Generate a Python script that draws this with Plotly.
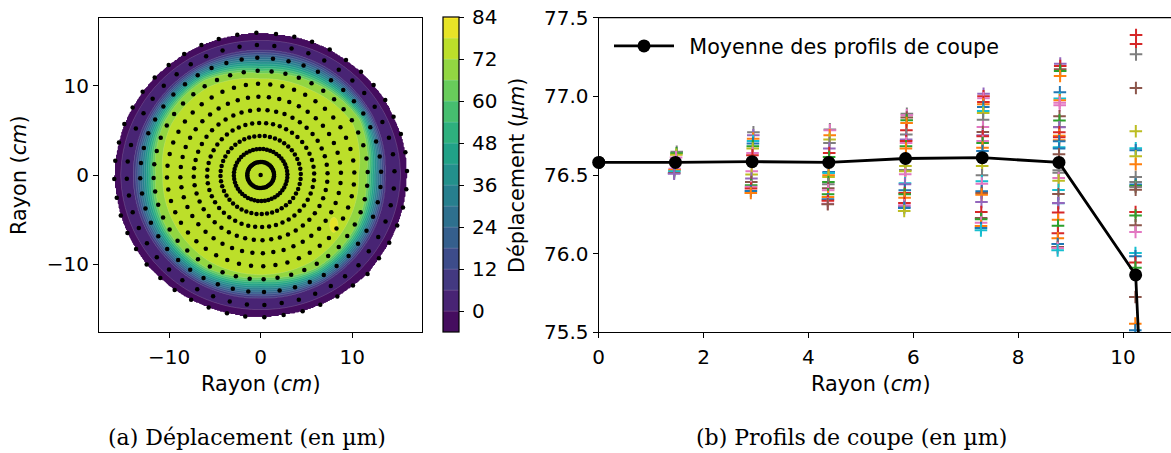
import numpy as np
import plotly.graph_objects as go

W, H = 1171, 453
FONT = "DejaVu Sans"
TAB10 = ["#1f77b4", "#ff7f0e", "#2ca02c", "#d62728", "#9467bd",
         "#8c564b", "#e377c2", "#7f7f7f", "#bcbd22", "#17becf"]
B, O, G, R, P, N, K, Y, L, C = TAB10


def fx(p):
    return p / W


def fy(p):
    return 1 - p / H


# Mean profile
mean_x = [0, 1.463, 2.926, 4.389, 5.852, 7.315, 8.778, 10.241, 11.704]
mean_y = [76.58, 76.58, 76.585, 76.58, 76.605, 76.61, 76.58, 75.865, 65.5]

# Individual profile values per radius
col_1 = [76.648, 76.638, 76.628, 76.612, 76.539, 76.532, 76.524, 76.513, 76.508]
clr_1 = [Y, G, L, K, K, O, C, N, P]
col_2 = [76.771, 76.752, 76.731, 76.716, 76.70, 76.682, 76.668, 76.64, 76.625, 76.524, 76.503,
         76.477, 76.455, 76.435, 76.425, 76.414, 76.398, 76.386]
clr_2 = [Y, P, O, C, B, G, L, K, R, K, L, P, N, G, K, R, B, O]
col_3 = [76.79, 76.784, 76.752, 76.725, 76.703, 76.668, 76.64, 76.614, 76.519, 76.513, 76.498,
         76.487, 76.455, 76.441, 76.415, 76.403, 76.377, 76.36, 76.346, 76.336, 76.318, 76.314]
clr_3 = [Y, K, O, L, Y, P, R, G, B, C, O, L, G, Y, N, K, G, O, B, R, K, N]
col_4 = [76.889, 76.88, 76.865, 76.848, 76.831, 76.784, 76.757, 76.725, 76.716, 76.703, 76.682,
         76.668, 76.557, 76.532, 76.524, 76.504, 76.447, 76.441, 76.403, 76.386, 76.377, 76.356,
         76.322, 76.307, 76.298, 76.29, 76.271]
clr_4 = [Y, K, N, G, O, R, Y, P, R, K, G, O, L, Y, L, K, C, P, B, R, G, O, R, K, P, B, L]
col_5 = [77.017, 77.0, 76.988, 76.964, 76.949, 76.932, 76.907, 76.894, 76.852, 76.805, 76.773,
         76.752, 76.746, 76.716, 76.703, 76.674, 76.653, 76.557, 76.498, 76.46, 76.445, 76.396,
         76.386, 76.375, 76.328, 76.265, 76.227, 76.218, 76.197, 76.176, 76.163, 76.148]
clr_5 = [P, R, K, R, O, B, C, L, Y, K, N, P, R, K, G, O, B, L, Y, C, K, B, N, O, P, R, N, G, K, O, B, C]
col_6 = [77.208, 77.193, 77.172, 77.161, 77.129, 77.026, 76.986, 76.975, 76.96, 76.943, 76.873,
         76.846, 76.805, 76.803, 76.771, 76.75, 76.74, 76.721, 76.714, 76.676, 76.668, 76.632,
         76.53, 76.515, 76.481, 76.464, 76.405, 76.379, 76.32, 76.322, 76.261, 76.216, 76.178,
         76.129, 76.098, 76.061, 76.042, 76.036, 76.021]
clr_6 = [P, R, N, G, O, B, C, O, K, K, N, G, Y, P, R, O, R, O, B, C, B, N, Y, Y, K, L, C, N, B, P,
         R, O, G, R, O, B, N, K, C]
col_7 = [77.39, 77.333, 77.267, 77.053, 76.778, 76.67, 76.657, 76.619, 76.568, 76.487, 76.455,
         76.439, 76.43, 76.424, 76.407, 76.265, 76.242, 76.18, 76.138, 76.004, 75.983, 75.943,
         75.911, 75.724, 75.555, 75.513]
clr_7 = [R, R, Y, N, L, C, B, L, O, Y, Y, B, G, Y, N, R, G, N, K, C, B, R, G, N, O, B]
profile_cols = [col_1, col_2, col_3, col_4, col_5, col_6, col_7]
profile_clrs = [clr_1, clr_2, clr_3, clr_4, clr_5, clr_6, clr_7]
profile_lean = [0.05, 0.05, 0.04, 0.05, 0.05, 0.05, 0.015]

# Outermost measurement ring, read point by point (cm), clockwise from the top
edge_x = [-0.47, 1.68, 3.68, 5.62, 7.55, 9.33, 10.97, 12.35, 13.62, 14.53, 15.33, 15.82, 16.0,
          15.92, 15.56, 14.93, 14.06, 12.93, 11.69, 10.09, 8.38, 6.52, 4.59, 2.51, 0.4,
          -1.68, -3.68, -5.68, -7.6, -9.4, -10.97, -12.46, -13.62, -14.56, -15.29, -15.73, -16.0,
          -15.89, -15.49, -14.9, -13.99, -12.9, -11.58, -10.05, -8.36, -6.47, -4.58, -2.55]
edge_y = [15.96, 15.81, 15.51, 14.95, 14.09, 12.89, 11.58, 10.09, 8.41, 6.54, 4.6, 2.55, 0.45,
          -1.61, -3.66, -5.68, -7.59, -9.34, -11.1, -12.41, -13.64, -14.57, -15.29, -15.7, -15.96,
          -15.88, -15.5, -14.87, -14.0, -12.89, -11.55, -10.03, -8.3, -6.5, -4.54, -2.54, -0.45,
          1.61, 3.66, 5.73, 7.56, 9.34, 10.94, 12.33, 13.57, 14.58, 15.25, 15.73]

# Contour map: radii (cm) at which displacement reaches given level, per direction
map_angles = [0, 30, 60, 90, 120, 150, 180, 210, 240, 270, 300, 330, 360]
r_0 = [15.3, 15.2, 15.2, 15.1, 15.2, 15.2, 15.3, 15.2, 15.2, 15.1, 15.2, 15.2, 15.3]
r_6 = [13.6, 13.9, 14.0, 14.0, 14.0, 13.9, 13.9, 13.9, 13.9, 13.8, 13.9, 13.8, 13.6]
r_66 = [11.6, 12.5, 11.9, 11.4, 12.3, 12.1, 11.5, 11.9, 12.0, 11.5, 12.1, 11.9, 11.6]
r_72 = [10.7, 11.6, 11.0, 10.8, 11.4, 11.3, 10.7, 10.9, 11.2, 11.2, 11.2, 10.9, 10.7]
plateau = 75.0
peak_xy = [8.0, -5.6]
peak_size = [0.65, 1.2]
peak_height = 6.0

# Measurement grid
ring_radii = [1.463, 2.926, 4.389, 5.852, 7.315, 8.778, 10.241, 11.704, 13.167, 14.63]
ring_count = 48
ring_start = 91.6

edge_a = np.degrees(np.arctan2(edge_y, edge_x)) % 360
edge_r = np.hypot(edge_x, edge_y)
order = np.argsort(edge_a)
edge_a, edge_r = edge_a[order], edge_r[order]

grid = np.arange(-16.5, 16.5001, 0.1)
gx, gy = np.meshgrid(grid, grid)
gr = np.hypot(gx, gy)
ga = np.degrees(np.arctan2(gy, gx)) % 360
rb = np.interp(ga, edge_a, edge_r, period=360)
k0 = np.minimum(np.interp(ga, map_angles, r_0), rb - 0.3)
k6 = np.interp(ga, map_angles, r_6)
k66 = np.interp(ga, map_angles, r_66)
k72 = np.interp(ga, map_angles, r_72)
z = np.minimum(plateau, 72 + (k72 - gr) * 6)
m = gr >= k72
z[m] = (66 + 6 * (gr - k66) / (k72 - k66))[m]
m = gr >= k66
z[m] = (6 + 60 * (gr - k6) / (k66 - k6))[m]
m = gr >= k6
z[m] = (0 + 6 * (gr - k0) / (k6 - k0))[m]
m = gr >= k0
z[m] = (-6 + 6 * (gr - rb) / (k0 - rb))[m]
d2 = ((gx - peak_xy[0]) / peak_size[0]) ** 2 + ((gy - peak_xy[1]) / peak_size[1]) ** 2
z = z + peak_height * np.clip(1 - d2, 0, None)
z[gr > rb] = np.nan
z = np.round(z, 2)

fig = go.Figure()
cb_ticks = list(range(0, 85, 12))
fig.add_trace(go.Contour(
    x=grid, y=grid, z=z, xaxis="x", yaxis="y", colorscale="Viridis",
    zmin=-6, zmax=84, autocontour=False,
    contours=dict(start=-6, end=84, size=6, coloring="fill", showlines=True),
    line=dict(color="rgba(255,255,255,0.35)", width=0.5, smoothing=0),
    connectgaps=False, showlegend=False, hoverinfo="skip",
    colorbar=dict(
        x=fx(442.5), xanchor="left", y=fy(332.3), yanchor="bottom",
        lenmode="pixels", len=314.6, thickness=16, thicknessmode="pixels",
        outlinecolor="black", outlinewidth=1.2, tickmode="array",
        tickvals=cb_ticks, ticktext=["\u2009" + str(t) for t in cb_ticks],
        ticks="outside", ticklen=5, tickwidth=1.2,
        tickcolor="black", tickfont=dict(family=FONT, size=20, color="black"),
        xpad=0, ypad=0),
))

px_, py_ = [0.0], [0.0]
for r in ring_radii:
    th = np.radians(ring_start - np.arange(ring_count) * 360 / ring_count)
    scale = 1 + (np.interp(np.degrees(th) % 360, edge_a, edge_r, period=360) / 16.0 - 1) * (r / 16.0) ** 2
    px_ += list(r * scale * np.cos(th))
    py_ += list(r * scale * np.sin(th))
px_ += edge_x
py_ += edge_y
fig.add_trace(go.Scatter(x=px_, y=py_, mode="markers", xaxis="x", yaxis="y", showlegend=False,
                         marker=dict(color="black", size=4.5), hoverinfo="skip", cliponaxis=False))

for r, vals, clrs, lean in zip(mean_x[1:], profile_cols, profile_clrs, profile_lean):
    v = np.array(vals)
    xs = r + lean * (v - (v.max() + v.min()) / 2) / (v.max() - v.min())
    fig.add_trace(go.Scatter(x=xs, y=vals, mode="markers", xaxis="x2", yaxis="y2", showlegend=False,
                             marker=dict(symbol="cross-thin", size=9, color=clrs,
                                         line=dict(color=clrs, width=2)), hoverinfo="skip"))

fig.add_trace(go.Scatter(x=mean_x, y=mean_y, mode="lines+markers", xaxis="x2", yaxis="y2",
                         name="\u2002Moyenne des profils de coupe",
                         line=dict(color="black", width=2.8),
                         marker=dict(color="black", size=13, symbol="circle"), hoverinfo="skip"))
fig.add_trace(go.Scatter(x=mean_x[:1], y=mean_y[:1], mode="markers", xaxis="x2", yaxis="y2",
                         showlegend=False, cliponaxis=False,
                         marker=dict(color="black", size=13), hoverinfo="skip"))

axis = dict(showgrid=False, zeroline=False, showline=True, linecolor="black", linewidth=1.2,
            mirror=True, ticks="outside", ticklen=5, tickwidth=1.2, tickcolor="black",
            tickfont=dict(family=FONT, size=20, color="black"))


def note(text, x, y, family=FONT, size=20.8, angle=0):
    return dict(text=text, x=fx(x), y=fy(y), xref="paper", yref="paper", xanchor="center", yanchor="middle",
                showarrow=False, textangle=angle, font=dict(family=family, size=size, color="black"))


fig.update_layout(
    width=W, height=H, margin=dict(l=0, r=0, t=0, b=0, autoexpand=False), autosize=False,
    paper_bgcolor="white", plot_bgcolor="white",
    xaxis=dict(axis, domain=[fx(99), fx(422.3)], range=[-17.67, 17.67], tickvals=[-10, 0, 10],
               ticktext=["−10", "0", "10"], anchor="y", ticklabelstandoff=2),
    yaxis=dict(axis, domain=[fy(332.3), fy(17.7)], range=[-17.65, 17.65], tickvals=[-10, 0, 10],
               ticktext=["−10", "0", "10"], anchor="x"),
    xaxis2=dict(axis, domain=[fx(598.7), 1], range=[0, 10.915], tickvals=[0, 2, 4, 6, 8, 10], anchor="y2",
                ticklabelstandoff=2),
    yaxis2=dict(axis, domain=[fy(332.3), fy(17.7)], range=[75.5, 77.5],
                tickvals=[75.5, 76, 76.5, 77, 77.5], ticktext=["75.5", "76.0", "76.5", "77.0", "77.5"], anchor="x2"),
    legend=dict(x=fx(609), y=fy(26), xanchor="left", yanchor="top", bgcolor="rgba(0,0,0,0)",
                itemwidth=60, font=dict(family=FONT, size=20.7, color="black")),
    shapes=[dict(type="line", xref="x2 domain", yref="y2 domain", x0=0, x1=1, y0=1, y1=1,
                 line=dict(color="black", width=1.2), layer="above")],
    annotations=[
        note("Rayon (<i>cm</i>)", 261, 384),
        note("Rayon (<i>cm</i>)", 871, 384),
        note("Rayon (<i>cm</i>)", 19, 175, angle=-90),
        note("Déplacement (<i>µm</i>)", 517, 175, angle=-90),
        note("(a) Déplacement (en µm)", 247, 437, family="DejaVu Serif", size=22),
        note("(b) Profils de coupe (en µm)", 851, 437, family="DejaVu Serif", size=22),
    ],
)
fig.write_html("out.html", config={"displayModeBar": False}, post_script="document.body.style.margin='0';")
